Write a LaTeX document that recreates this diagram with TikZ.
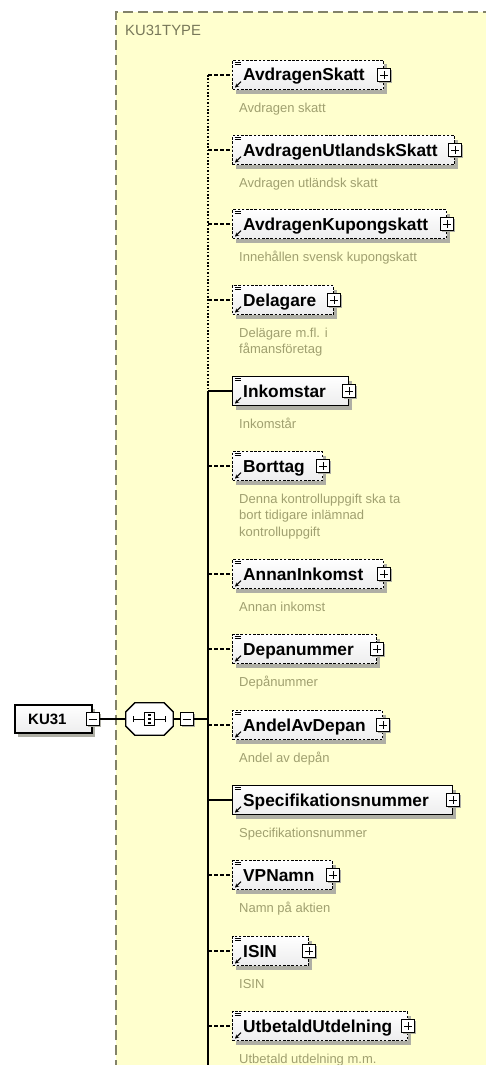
\documentclass[tikz,border=0pt]{standalone}
\usepackage{fontspec}
\setmainfont{Liberation Sans}
\usetikzlibrary{shadows,arrows.meta}
\definecolor{bgyellow}{RGB}{255,255,206}
\definecolor{descc}{RGB}{160,160,112}
\definecolor{typec}{RGB}{120,120,90}
\definecolor{borderc}{RGB}{130,130,105}
\definecolor{shadowc}{RGB}{175,175,165}
\tikzset{
  elbox/.style={anchor=west, minimum height=29pt, inner sep=0pt, line width=1.3pt,
    top color=white, bottom color=blue!4!black!7, draw=black,
    drop shadow={shadow xshift=3pt, shadow yshift=-4pt, fill=shadowc, opacity=1}},
  opt/.style={dash pattern=on 2.6pt off 1.6pt},
  req/.style={solid},
  optconn/.style={dash pattern=on 3.5pt off 2.5pt},
  reqconn/.style={solid},
  conn/.style={line width=1.2pt, draw=black},
  elname/.style={anchor=base west, inner sep=0pt, font=\bfseries\fontsize{17.3}{19}\selectfont},
  desc/.style={anchor=north west, inner sep=0pt, align=left, text=descc,
    font=\fontsize{13}{16.5}\selectfont},
  pmbox/.style={draw=black, line width=1pt, fill=white, minimum size=13pt, inner sep=0pt,
    drop shadow={shadow xshift=1.5pt, shadow yshift=-1.5pt, fill=shadowc, opacity=1}},
  plus/.style={pmbox, path picture={
    \draw[line width=0.9pt] ([xshift=2.5pt]path picture bounding box.west) -- ([xshift=-2.5pt]path picture bounding box.east);
    \draw[line width=0.9pt] ([yshift=-2.5pt]path picture bounding box.north) -- ([yshift=2.5pt]path picture bounding box.south);}},
  minus/.style={pmbox, path picture={
    \draw[line width=0.9pt] ([xshift=2.5pt]path picture bounding box.west) -- ([xshift=-2.5pt]path picture bounding box.east);}},
  icon/.style={line width=0.8pt, draw=black},
}
\newcommand\xsdelem[6]{%
  \coordinate (j#1) at (208,#2);
  \node[elbox,#4,minimum width=#3pt] (b#1) at (232,#2) {};
  \node[elname] (n#1) at (243,#2+6) {#5};
  \node[plus] (p#1) at (b#1.east) {};
  \draw[icon] ([xshift=2.5pt,yshift=-2.5pt]b#1.north west) -- ++(6,0);
  \draw[icon] ([xshift=2.5pt,yshift=-4.8pt]b#1.north west) -- ++(6,0);
  \draw[-{Stealth[length=4pt,width=4pt]}, line width=1.1pt] ([xshift=9pt,yshift=8.5pt]b#1.south west) -- ([xshift=3pt,yshift=2.5pt]b#1.south west);
  \node[desc] (d#1) at (239,#2+27) {#6};
  \draw[conn,#4conn] (j#1) -- (b#1.west);
}
\begin{document}
\begin{tikzpicture}[x=1pt,y=-1pt]
\useasboundingbox (0,0) rectangle (485,1065);
\fill[white] (0,0) rectangle (485,1065);
% type region
\fill[bgyellow] (116,12) rectangle (490,1070);
\draw[borderc, line width=1.2pt, dash pattern=on 10pt off 5pt] (116,1070) -- (116,12) -- (490,12);
\node[anchor=west, inner sep=0pt, text=typec, font=\fontsize{14.8}{16}\selectfont] (typelabel) at (125,30) {KU31TYPE};

% children
\xsdelem{1}{75}{151}{opt}{AvdragenSkatt}{\rule{0pt}{10pt}Avdragen skatt}
\xsdelem{2}{150}{222}{opt}{AvdragenUtlandskSkatt}{\rule{0pt}{10pt}Avdragen utländsk skatt}
\xsdelem{3}{224}{214}{opt}{AvdragenKupongskatt}{\rule{0pt}{10pt}Innehållen svensk kupongskatt}
\xsdelem{4}{300}{101}{opt}{Delagare}{\rule{0pt}{10pt}Delägare m.fl. i\\fåmansföretag}
\xsdelem{5}{391}{116}{req}{Inkomstar}{\rule{0pt}{10pt}Inkomstår}
\xsdelem{6}{466}{90}{opt}{Borttag}{\rule{0pt}{10pt}Denna kontrolluppgift ska ta\\bort tidigare inlämnad\\kontrolluppgift}
\xsdelem{7}{574}{151}{opt}{AnnanInkomst}{\rule{0pt}{10pt}Annan inkomst}
\xsdelem{8}{649}{144}{opt}{Depanummer}{\rule{0pt}{10pt}Depånummer}
\xsdelem{9}{725}{150}{opt}{AndelAvDepan}{\rule{0pt}{10pt}Andel av depån}
\xsdelem{10}{800}{220}{req}{Specifikationsnummer}{\rule{0pt}{10pt}Specifikationsnummer}
\xsdelem{11}{875}{100}{opt}{VPNamn}{\rule{0pt}{10pt}Namn på aktien}
\xsdelem{12}{951}{76}{opt}{ISIN}{\rule{0pt}{10pt}ISIN}
\xsdelem{13}{1026}{175}{opt}{UtbetaldUtdelning}{\rule{0pt}{10pt}Utbetald utdelning m.m.}

% bus
\coordinate (jend) at (208,1070);
\coordinate (jc) at (208,719);
\draw[line width=1.4pt, dash pattern=on 1.6pt off 1.8pt] (j1) -- (j5);
\draw[line width=1.3pt] (j5) -- (jend);

% root element
\node[elbox, req, anchor=center, minimum width=77pt, minimum height=28pt] (ku) at (53.5,719) {};
\node[anchor=base west, inner sep=0pt, font=\bfseries\fontsize{15}{17}\selectfont] (kulabel) at (28,724.5) {KU31};
\node[minus] (kum) at (ku.east) {};

% sequence compositor
\node[minimum width=47pt, minimum height=32pt, inner sep=0pt] (seq) at (149.5,719) {};
\begin{scope}[shift={(3,4)}]
\fill[shadowc] ([xshift=9pt]seq.north west) -- ([xshift=-9pt]seq.north east) -- ([yshift=-9pt]seq.north east) -- ([yshift=9pt]seq.south east) -- ([xshift=-9pt]seq.south east) -- ([xshift=9pt]seq.south west) -- ([yshift=9pt]seq.south west) -- ([yshift=-9pt]seq.north west) -- cycle;
\end{scope}
\draw[fill=white, line width=1.3pt] ([xshift=9pt]seq.north west) -- ([xshift=-9pt]seq.north east) -- ([yshift=-9pt]seq.north east) -- ([yshift=9pt]seq.south east) -- ([xshift=-9pt]seq.south east) -- ([xshift=9pt]seq.south west) -- ([yshift=9pt]seq.south west) -- ([yshift=-9pt]seq.north west) -- cycle;
\draw[line width=1pt] ([xshift=8pt]seq.west) -- ([xshift=-8pt]seq.east);
\draw[line width=1pt] ([xshift=8pt,yshift=-3pt]seq.west) -- ([xshift=8pt,yshift=3pt]seq.west);
\draw[line width=1pt] ([xshift=-8pt,yshift=-3pt]seq.east) -- ([xshift=-8pt,yshift=3pt]seq.east);
\draw[line width=0.9pt, fill=white] ([xshift=-5pt,yshift=-6.5pt]seq.center) rectangle ([xshift=5pt,yshift=6.5pt]seq.center);
\foreach \dy in {-4,0,4} {
  \fill ([xshift=-1.3pt,yshift=\dy pt-1.2pt]seq.center) rectangle ([xshift=1.3pt,yshift=\dy pt+1.2pt]seq.center);
}
\node[minus] (seqm) at (186.5,719) {};

% connectors of root
\draw[conn] (kum.east) -- (seq.west);
\draw[conn] (seq.east) -- (seqm.west);
\draw[conn] (seqm.east) -- (jc);
\end{tikzpicture}
\end{document}
